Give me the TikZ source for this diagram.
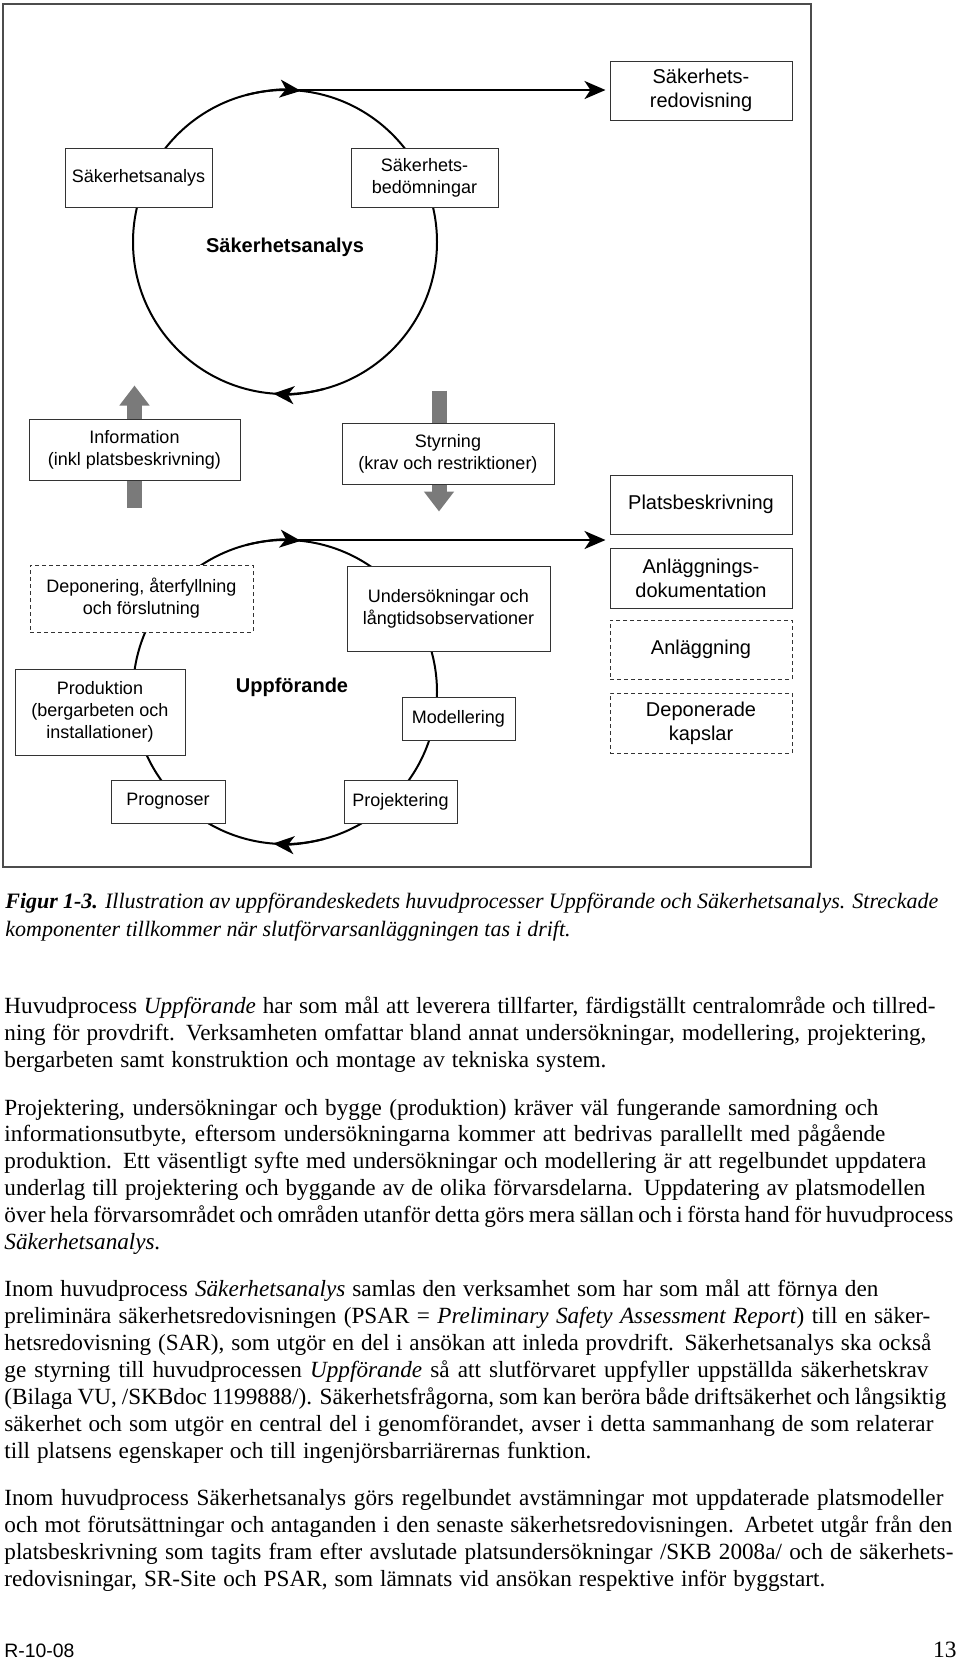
\documentclass[tikz,border=0pt]{standalone}
\usepackage{fontspec}
\setmainfont{Liberation Serif}
\setsansfont{Liberation Sans}
\usetikzlibrary{arrows.meta}

\newcommand{\fitline}[2]{\makebox[#1pt][s]{#2}}

\tikzset{
    box/.style={draw=black!80, line width=0.5pt, fill=white, inner sep=0pt, align=center,
        font=\sffamily\fontsize{9}{11}\selectfont},
    bigbox/.style={box, font=\sffamily\fontsize{10}{12}\selectfont},
    laterbox/.style={dash pattern=on 2pt off 1.5pt},
    cycleline/.style={line width=1pt},
    cyclehead/.style={cycleline, -{Stealth[length=10.5pt, width=9pt, inset=3pt]}},
    flow/.style={line width=1.2pt, -{Stealth[length=10.5pt, width=9pt, inset=3pt]}},
    feed/.style={line width=7.5pt, draw=black!52},
    feedtip/.style={feed, -{Triangle[length=10pt, width=14.5pt]}},
    title/.style={font=\sffamily\bfseries\fontsize{10}{12}\selectfont},
    bodytext/.style={anchor=base west, inner sep=0pt, align=left,
        font=\fontsize{11.6}{13.45}\selectfont},
}

\begin{document}
\begin{tikzpicture}[x=0.5pt, y=-0.5pt]
    \useasboundingbox (0, 0) rectangle (960, 1661);

    \draw[black!70, line width=0.7pt] (3, 4) rectangle (811, 867);

    \coordinate (sa) at (285, 242);
    \coordinate (up) at (285, 692);
    \coordinate (satop) at (285, 90);
    \coordinate (uptop) at (285, 540);

    \draw[cycleline] (sa) circle[radius=152];
    \draw[cycleline] (up) circle[radius=152];
    \draw[cyclehead] (sa) ++(255:152) arc[start angle=255, end angle=276, radius=152];
    \draw[cyclehead] (sa) ++(75:152) arc[start angle=75, end angle=94.5, radius=152];
    \draw[cyclehead] (up) ++(255:152) arc[start angle=255, end angle=276, radius=152];
    \draw[cyclehead] (up) ++(75:152) arc[start angle=75, end angle=94.5, radius=152];

    \node[title] (satitle) at (285, 247) {Säkerhetsanalys};
    \node[title] (uptitle) at (292, 687) {Uppförande};

    \node[bigbox, minimum width=91pt, minimum height=29.5pt] (redov) at (701, 90.5) {Säkerhets-\\redovisning};
    \node[box, minimum width=73.5pt, minimum height=29.5pt] (sakana) at (138.5, 177.5) {Säkerhetsanalys};
    \node[box, minimum width=73.5pt, minimum height=29.5pt] (bedom) at (424.5, 177.5) {Säkerhets-\\bedömningar};

    \node[box, minimum width=105.5pt, minimum height=30.5pt] (info) at (134.5, 449.5) {Information\\(inkl platsbeskrivning)};
    \node[box, minimum width=106pt, minimum height=30.5pt] (styr) at (448, 453.5) {Styrning\\(krav och restriktioner)};

    \node[bigbox, minimum width=91pt, minimum height=29.5pt] (plats) at (701, 504.5) {Platsbeskrivning};
    \node[bigbox, minimum width=91pt, minimum height=30pt] (anldok) at (701, 578) {Anläggnings-\\dokumentation};
    \node[bigbox, laterbox, minimum width=91pt, minimum height=29.5pt] (anl) at (701, 649.5) {Anläggning};
    \node[bigbox, laterbox, minimum width=91pt, minimum height=30pt] (depkap) at (701, 723) {Deponerade\\kapslar};

    \node[box, laterbox, minimum width=111.5pt, minimum height=33.5pt] (depon) at (141.5, 598.5) {Deponering, återfyllning\\och förslutning};
    \node[box, minimum width=101.5pt, minimum height=42.5pt] (unders) at (448.5, 608.5) {Undersökningar och\\långtidsobservationer};
    \node[box, minimum width=85pt, minimum height=43pt] (prod) at (100, 712) {Produktion\\(bergarbeten och\\installationer)};
    \node[box, minimum width=56.5pt, minimum height=21.5pt] (model) at (458.5, 718.5) {Modellering};
    \node[box, minimum width=57pt, minimum height=21.5pt] (progn) at (168, 801.5) {Prognoser};
    \node[box, minimum width=56.5pt, minimum height=21.5pt] (proj) at (400.5, 801.5) {Projektering};

    \draw[flow, shorten >=2pt] (satop) -- (satop -| redov.west);
    \draw[flow, shorten >=2pt] (uptop) -- (uptop -| plats.west);

    \coordinate (infoin) at ([yshift=-13.5pt]info.south);
    \coordinate (infoout) at ([yshift=16.5pt]info.north);
    \draw[feed] (infoin) -- (info.south);
    \draw[feedtip] (info.north) -- (infoout);

    \coordinate (styrin) at ([xshift=-4.5pt, yshift=16pt]styr.north);
    \coordinate (styrout) at ([xshift=-4.5pt, yshift=-13.5pt]styr.south);
    \draw[feed] (styrin) -- (styrin |- styr.north);
    \draw[feedtip] (styrin |- styr.south) -- (styrout);

    \node[anchor=base west, inner sep=0pt, align=left, font=\itshape\fontsize{11}{14}\selectfont] (caption) at (5, 936.5)
        {\fitline{466.5}{\textbf{Figur 1-3.} Illustration av uppförandeskedets huvudprocesser Uppförande och Säkerhetsanalys. Streckade}\\
        komponenter tillkommer när slutförvarsanläggningen tas i drift.};

    \node[bodytext] (para1) at (4, 1067)
        {\fitline{465.5}{Huvudprocess \textit{Uppförande} har som mål att leverera tillfarter, färdigställt centralområde och tillred-}\\
        \fitline{461}{ning för provdrift. Verksamheten omfattar bland annat undersökningar, modellering, projektering,}\\
        \fitline{301}{bergarbeten samt konstruktion och montage av tekniska system.}};

    \node[bodytext] (para2) at (4, 1249.5)
        {\fitline{437}{Projektering, undersökningar och bygge (produktion) kräver väl fungerande samordning och}\\
        \fitline{440.5}{informationsutbyte, eftersom undersökningarna kommer att bedrivas parallellt med pågående}\\
        \fitline{461}{produktion. Ett väsentligt syfte med undersökningar och modellering är att regelbundet uppdatera}\\
        \fitline{460.5}{underlag till projektering och byggande av de olika förvarsdelarna. Uppdatering av platsmodellen}\\
        \fitline{474.5}{över hela förvarsområdet och områden utanför detta görs mera sällan och i första hand för huvudprocess}\\
        \textit{Säkerhetsanalys.}};

    \node[bodytext] (para3) at (4, 1458)
        {\fitline{437}{Inom huvudprocess \textit{Säkerhetsanalys} samlas den verksamhet som har som mål att förnya den}\\
        \fitline{463}{preliminära säkerhetsredovisningen (PSAR = \textit{Preliminary Safety Assessment Report}) till en säker-}\\
        \fitline{463.5}{hetsredovisning (SAR), som utgör en del i ansökan att inleda provdrift. Säkerhetsanalys ska också}\\
        \fitline{462}{ge styrning till huvudprocessen \textit{Uppförande} så att slutförvaret uppfyller uppställda säkerhetskrav}\\
        \fitline{471}{(Bilaga VU, /SKBdoc 1199888/). Säkerhetsfrågorna, som kan beröra både driftsäkerhet och långsiktig}\\
        \fitline{464.5}{säkerhet och som utgör en central del i genomförandet, avser i detta sammanhang de som relaterar}\\
        \fitline{293.5}{till platsens egenskaper och till ingenjörsbarriärernas funktion.}};

    \node[bodytext] (para4) at (4, 1586.5)
        {\fitline{469.5}{Inom huvudprocess Säkerhetsanalys görs regelbundet avstämningar mot uppdaterade platsmodeller}\\
        \fitline{474}{och mot förutsättningar och antaganden i den senaste säkerhetsredovisningen. Arbetet utgår från den}\\
        \fitline{474.5}{platsbeskrivning som tagits fram efter avslutade platsundersökningar /SKB 2008a/ och de säkerhets-}\\
        \fitline{410.5}{redovisningar, SR-Site och PSAR, som lämnats vid ansökan respektive inför byggstart.}};

    \node[anchor=base west, inner sep=0pt, font=\sffamily\fontsize{9.7}{12}\selectfont] (reportno) at (4, 1657) {R-10-08};
    \node[anchor=base east, inner sep=0pt, font=\fontsize{11.7}{14}\selectfont] (pageno) at (957, 1657) {13};
\end{tikzpicture}
\end{document}
